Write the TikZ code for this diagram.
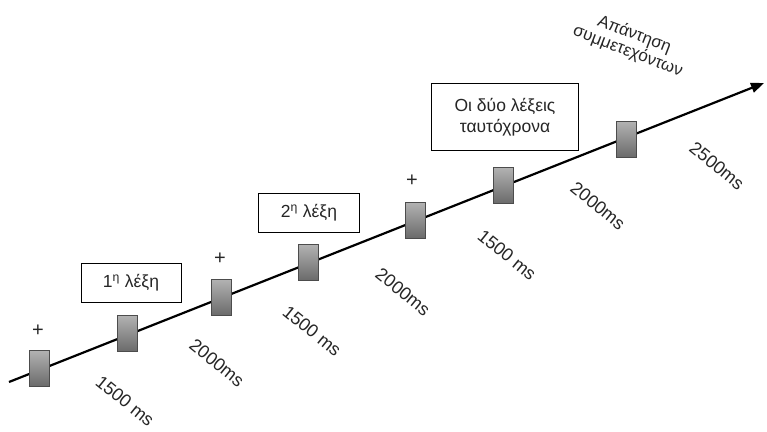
\documentclass[tikz,border=0pt]{standalone}
\usepackage{fontspec}
\setmainfont{Liberation Sans}
\usetikzlibrary{arrows.meta}
\begin{document}
\begin{tikzpicture}[x=1pt,y=-1pt,
  stim/.style={draw=black!70,line width=0.8pt,top color=black!30,bottom color=black!58,minimum width=20pt,minimum height=36pt,inner sep=0pt},
  wordbox/.style={draw=black,line width=0.9pt,fill=white,font=\fontsize{17.5}{21}\selectfont,text=black!85,align=center,inner sep=0pt},
  dur/.style={font=\fontsize{18}{20}\selectfont,text=black!85,rotate=-39},
  plus/.style={font=\fontsize{20}{22}\selectfont,text=black!85}]
\useasboundingbox (0,0) rectangle (767,431);
\coordinate (start) at (9,382);
\coordinate (end) at (764,83);
\draw[line width=2.2pt,-{Triangle[length=13pt,width=10pt]}] (start) -- (end);
\node[stim] (r1) at (39,368) {};
\node[stim] (r2) at (127,333) {};
\node[stim] (r3) at (221,297) {};
\node[stim] (r4) at (308,262) {};
\node[stim] (r5) at (415,220) {};
\node[stim] (r6) at (503,185) {};
\node[stim] (r7) at (626,139) {};
\node[plus] (p1) at (38,331) {+};
\node[plus] (p2) at (220,259) {+};
\node[plus] (p3) at (412,181) {+};
\node[wordbox,minimum width=100pt,minimum height=39pt] (w1) at (131,283) {1\textsuperscript{η} λέξη};
\node[wordbox,minimum width=101pt,minimum height=39pt] (w2) at (309,213) {2\textsuperscript{η} λέξη};
\node[wordbox,minimum width=147pt,minimum height=67pt] (w3) at (505,117) {Οι δύο λέξεις\\ταυτόχρονα};
\node[dur] (d1) at (125,401) {1500 ms};
\node[dur] (d2) at (217,363) {2000ms};
\node[dur] (d3) at (312,331) {1500 ms};
\node[dur] (d4) at (403,292) {2000ms};
\node[dur] (d5) at (507,255) {1500 ms};
\node[dur] (d6) at (598,206) {2000ms};
\node[dur] (d7) at (717,166) {2500ms};
\node[font=\fontsize{17}{18}\selectfont,text=black!85,align=center,rotate=-21] (resp) at (631,43) {Απάντηση\\συμμετεχόντων};
\end{tikzpicture}
\end{document}
